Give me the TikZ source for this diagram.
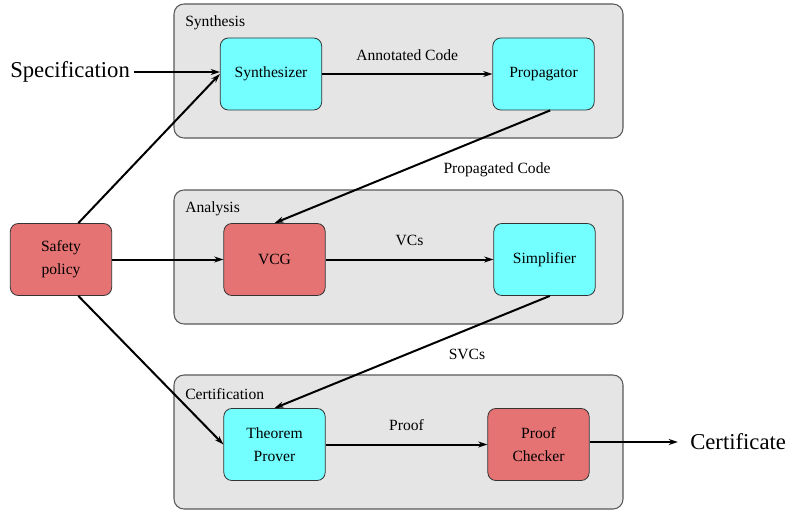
\documentclass[tikz,border=0pt]{standalone}
\usepackage{fontspec}
\setmainfont{Liberation Serif}
\usetikzlibrary{arrows.meta}
\definecolor{boxCyan}{RGB}{115,255,255}
\definecolor{boxRed}{RGB}{229,115,115}
\definecolor{grpGray}{RGB}{229,229,229}
\tikzset{
  grpBox/.style={draw=black!65, fill=grpGray, rounded corners=7.5pt, line width=0.8pt},
  toolBox/.style={draw=black!80, rounded corners=6pt, minimum width=76pt,
    minimum height=54pt, align=center, line width=0.6pt,
    font=\fontsize{11.7}{17}\selectfont},
  flow/.style={-{Stealth[length=7pt,width=4.5pt]}, line width=1.5pt},
  lbl/.style={font=\fontsize{11.7}{14}\selectfont, inner sep=0pt},
  ioText/.style={font=\fontsize{17}{20}\selectfont, inner sep=0pt}
}
\begin{document}
\begin{tikzpicture}[x=0.75pt,y=-0.75pt]
  \useasboundingbox (0,0) rectangle (788,510);
  %% the three stages
  \draw[grpBox] (174,4) rectangle (623,138);
  \draw[grpBox] (174,190) rectangle (623,324);
  \draw[grpBox] (174,375) rectangle (623,509);
  \node[lbl, anchor=west] (synthLbl) at (185,23) {Synthesis};
  \node[lbl, anchor=west] (anaLbl) at (185,209) {Analysis};
  \node[lbl, anchor=west] (certLbl) at (185,394) {Certification};

  \node[toolBox, fill=boxCyan] (synth) at (271,74) {Synthesizer};
  \node[toolBox, fill=boxCyan] (prop) at (543.5,74) {Propagator};
  \node[toolBox, fill=boxRed] (safety) at (61,259.5) {Safety\\policy};
  \node[toolBox, fill=boxRed] (vcg) at (274.5,259.5) {VCG};
  \node[toolBox, fill=boxCyan] (simp) at (544.5,259.5) {Simplifier};
  \node[toolBox, fill=boxCyan] (thm) at (274.5,444.5) {Theorem\\Prover};
  \node[toolBox, fill=boxRed] (check) at (538.5,444.5) {Proof\\Checker};

  \node[ioText, anchor=west] (spec) at (10,72) {Specification};
  \node[ioText, anchor=west] (cert) at (690,442) {Certificate};

  \draw[flow] (spec.east) ++(3pt,0) -- (synth.west |- spec.east);
  \draw[flow] (synth) -- (prop) node[lbl, midway, above=9.5pt] (annLbl) {Annotated Code};
  \draw[flow] ([xshift=5pt]prop.south) -- (vcg.north);
  \node[lbl] (propLbl) at (497,170) {Propagated Code};
  \draw[flow] (vcg) -- (simp) node[lbl, midway, above=9.5pt] (vcLbl) {VCs};
  \draw[flow] ([xshift=4pt]simp.south) -- (thm.north);
  \node[lbl] (svcLbl) at (467,354) {SVCs};
  \draw[flow] (thm) -- (check) node[lbl, midway, above=9.5pt] (proofLbl) {Proof};
  \draw[flow] (check.east |- cert.west) -- ([xshift=-9pt]cert.west);

  \draw[flow] ([xshift=13pt]safety.north) -- (synth.west);
  \draw[flow] (safety.east) -- (vcg.west);
  \draw[flow] ([xshift=13pt]safety.south) -- (thm.west);
\end{tikzpicture}
\end{document}
